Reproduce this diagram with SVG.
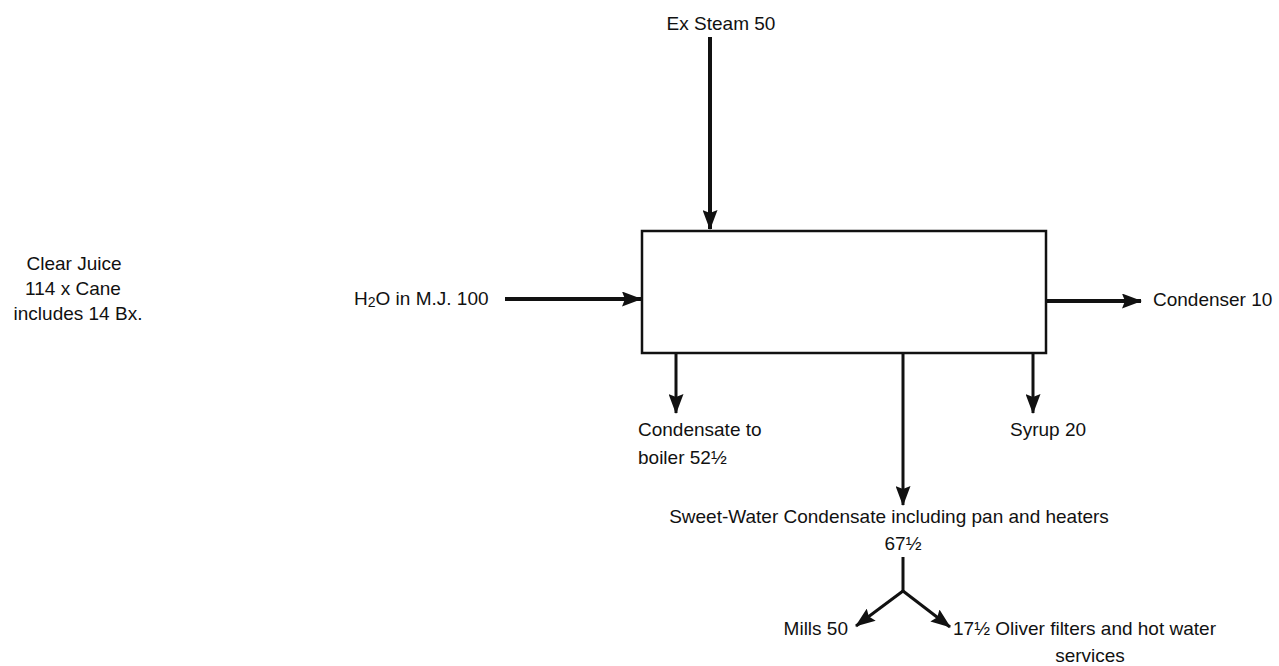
<svg xmlns="http://www.w3.org/2000/svg" width="1279" height="666" viewBox="0 0 1279 666">
<style>
text{font-family:"Liberation Sans",Arial,sans-serif;font-size:19px;fill:#111}
.ln{stroke:#111;stroke-width:3;fill:none}
.thick{stroke:#111;stroke-width:4;fill:none}
</style>
<defs>
<marker id="ah" viewBox="0 0 20 15" refX="19" refY="7.5" markerWidth="20" markerHeight="15" orient="auto" markerUnits="userSpaceOnUse">
<path d="M0,0 L20,7.5 L0,15 L3,7.5 z" fill="#111"/>
</marker>
</defs>
<rect width="1279" height="666" fill="#fff"/>
<g id="evaporator">
<rect x="642" y="231" width="404" height="122" fill="none" stroke="#111" stroke-width="2.5"/>
</g>
<g id="connectors">
<line class="thick" x1="710" y1="37" x2="710" y2="229" marker-end="url(#ah)"/>
<line class="thick" x1="505" y1="299" x2="641" y2="299" marker-end="url(#ah)"/>
<line class="thick" x1="1047" y1="301" x2="1141" y2="301" marker-end="url(#ah)"/>
<line class="ln" x1="676" y1="353" x2="676" y2="413" marker-end="url(#ah)"/>
<line class="ln" x1="1033" y1="353" x2="1033" y2="413" marker-end="url(#ah)"/>
<line class="ln" x1="903" y1="353" x2="903" y2="505" marker-end="url(#ah)"/>
<line class="ln" x1="903" y1="557" x2="903" y2="591"/>
<line class="ln" x1="903" y1="591" x2="856" y2="626" marker-end="url(#ah)"/>
<line class="ln" x1="903" y1="591" x2="950" y2="627" marker-end="url(#ah)"/>
</g>
<g id="ex-steam"><text x="721" y="30" text-anchor="middle">Ex Steam 50</text></g>
<g id="clear-juice">
<text x="74" y="270" text-anchor="middle">Clear Juice</text>
<text x="73" y="295" text-anchor="middle">114 x Cane</text>
<text x="78" y="320" text-anchor="middle">includes 14 Bx.</text>
</g>
<g id="h2o"><text x="354" y="305">H<tspan font-size="14" dy="2">2</tspan><tspan dy="-2">O in M.J. 100</tspan></text></g>
<g id="condenser"><text x="1153" y="306">Condenser 10</text></g>
<g id="condensate-boiler">
<text x="638" y="436">Condensate to</text>
<text x="638" y="464">boiler 52½</text>
</g>
<g id="syrup"><text x="1010" y="436">Syrup 20</text></g>
<g id="sweet-water">
<text x="889" y="523" text-anchor="middle">Sweet-Water Condensate including pan and heaters</text>
<text x="903" y="550" text-anchor="middle">67½</text>
</g>
<g id="mills"><text x="848" y="635" text-anchor="end">Mills 50</text></g>
<g id="oliver">
<text x="953" y="635">17½ Oliver filters and hot water</text>
<text x="1090" y="662" text-anchor="middle">services</text>
</g>
</svg>
